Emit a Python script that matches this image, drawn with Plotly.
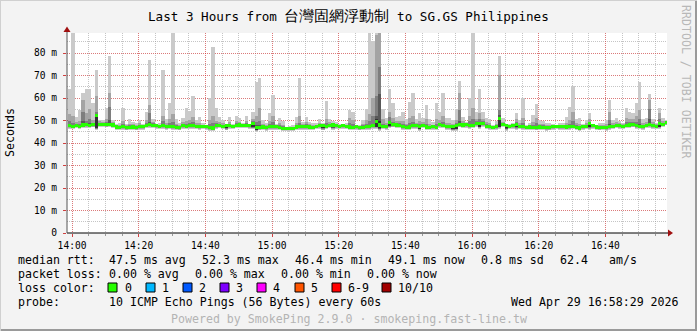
import plotly.graph_objects as go

# ---------------- data (ms), one value per minute, 180 minutes ----------------
median = [47.6,47.4,47.8,47.5,48.0,48.1,47.9,48.2,52.3,48.4,
 48.3,48.2,48.4,48.0,47.1,47.0,47.2,46.9,47.0,47.1,
 46.9,47.3,47.2,47.9,48.1,47.8,47.6,47.4,47.6,47.3,
 47.5,47.2,47.0,46.9,47.6,47.5,47.7,47.6,47.4,47.2,
 47.4,47.3,46.8,46.7,47.6,47.8,47.5,47.6,47.7,47.5,
 47.9,48.0,47.8,47.9,47.6,48.5,47.0,46.9,47.1,46.8,
 47.3,47.2,47.3,47.0,46.6,46.4,46.6,46.5,47.1,47.3,
 47.2,47.3,47.1,47.0,47.4,47.6,47.7,47.5,47.8,48.0,
 47.6,47.5,47.6,47.4,47.1,47.0,47.2,46.9,47.0,47.2,
 47.3,47.6,49.5,48.0,47.4,47.3,49.2,48.2,48.0,47.9,
 47.2,47.0,47.1,47.6,47.7,47.5,47.8,47.1,47.0,47.2,
 47.0,48.1,47.8,47.3,47.2,47.4,47.6,48.2,48.0,48.1,
 47.6,47.9,48.6,48.7,48.5,47.4,47.2,47.0,47.3,50.8,
 48.3,47.7,47.5,47.6,48.3,47.5,47.2,47.0,47.1,47.0,
 46.9,47.1,47.0,46.8,46.9,47.2,47.4,47.2,47.3,47.1,
 47.3,47.4,47.0,46.7,47.2,47.5,48.6,47.6,47.1,46.9,
 47.0,46.8,47.3,47.5,47.8,47.6,47.4,47.9,48.0,48.2,
 47.6,47.5,47.3,47.8,48.1,47.7,47.4,48.8,48.3,49.1]

ping10 = [64.0,91.0,51.5,54.7,62.4,63.9,63.9,57.9,72.4,50.2,
 50.2,55.4,78.7,50.2,48.6,49.0,55.4,48.5,50.6,49.5,
 48.7,50.2,48.6,53.9,76.9,50.6,48.3,48.7,72.4,50.6,
 57.9,91.0,50.6,48.7,51.0,55.7,54.4,60.9,50.2,51.4,
 48.7,48.0,59.9,82.8,55.4,51.4,50.2,48.3,51.4,48.3,
 52.0,51.0,48.7,52.0,48.3,53.9,67.3,68.7,50.2,48.7,
 53.5,61.3,48.3,51.3,49.9,47.3,47.6,48.0,51.4,69.0,
 49.5,51.4,49.5,48.7,48.7,50.6,49.0,58.8,50.6,49.9,
 49.5,48.3,48.3,48.7,54.7,53.9,48.0,48.0,50.2,55.0,
 91.0,85.5,91.0,91.0,55.0,51.0,63.9,57.9,51.4,52.0,
 53.9,50.6,58.3,62.1,50.6,53.5,51.0,56.9,50.6,49.5,
 57.9,53.9,62.1,51.0,51.0,50.2,55.0,67.6,51.7,49.5,
 59.9,91.0,53.9,63.9,53.9,51.0,50.6,48.0,49.9,78.7,
 51.0,48.0,48.3,48.7,53.5,50.2,59.9,48.0,49.0,52.4,
 57.3,50.2,49.9,48.7,49.0,48.3,48.0,48.7,49.0,51.4,
 55.8,65.3,50.6,51.0,48.3,50.2,53.2,48.3,48.0,48.7,
 48.7,50.2,59.1,50.2,51.0,49.9,49.0,55.4,53.9,53.2,
 57.6,67.3,50.6,51.0,61.8,50.6,49.0,55.4,51.0,50.2]

ping9 = [53.0,52.0,49.3,49.8,59.1,53.2,55.0,50.4,60.9,49.6,
 49.5,50.5,62.4,49.2,48.1,48.2,49.6,47.9,48.6,48.4,
 48.0,48.9,48.1,50.2,56.9,49.4,48.1,48.2,52.0,48.7,
 50.8,53.0,48.6,47.9,49.2,50.0,50.3,51.5,48.7,49.0,
 48.1,47.8,50.3,52.0,49.9,49.3,48.8,48.0,49.2,48.0,
 49.8,49.5,48.3,49.6,48.0,50.6,52.0,55.5,48.6,47.8,
 50.0,52.0,47.9,48.9,48.0,47.0,47.2,47.3,49.0,52.0,
 48.3,49.2,48.4,47.9,48.1,49.0,48.4,50.5,49.3,49.0,
 48.6,48.0,48.0,48.2,51.0,50.2,47.7,47.6,48.6,50.3,
 53.0,60.0,88.0,91.0,50.5,49.0,54.0,51.0,49.6,50.0,
 50.0,48.6,50.9,52.0,49.0,50.0,49.2,50.8,48.4,48.2,
 50.5,50.2,52.0,49.0,48.9,48.6,50.4,62.1,49.8,49.0,
 52.0,55.4,50.8,53.5,50.6,49.2,48.8,47.7,48.6,70.2,
 49.4,47.9,48.0,48.2,50.5,48.8,51.0,47.6,48.0,49.4,
 51.0,48.6,48.4,47.8,47.9,47.9,47.9,48.0,48.2,49.0,
 50.2,54.0,48.7,48.6,47.9,48.8,50.6,48.0,47.7,47.8,
 47.9,48.5,53.9,48.8,49.4,48.8,48.3,51.0,50.5,50.6,
 52.0,54.7,48.9,49.4,59.1,49.2,48.3,53.2,49.7,50.0]

ping8 = [50.0,49.0,48.6,48.4,53.9,50.0,50.5,49.0,53.9,49.1,
 49.0,49.2,56.1,48.7,47.7,47.7,48.3,47.5,47.9,47.8,
 47.5,48.2,47.8,48.9,53.2,48.7,47.9,47.9,49.8,48.0,
 48.9,49.5,47.9,47.5,48.4,48.6,48.8,49.2,48.1,48.0,
 47.8,47.6,48.6,49.0,48.7,48.6,48.2,47.9,48.5,47.9,
 48.9,48.8,48.1,48.8,47.9,49.6,49.5,50.0,47.9,47.4,
 48.6,49.5,47.6,48.0,47.4,46.8,47.0,46.9,48.0,49.0,
 47.8,48.3,47.8,47.5,47.8,48.4,48.1,49.0,48.6,48.6,
 48.2,47.8,47.9,47.9,49.0,48.5,47.5,47.3,47.9,48.6,
 50.0,52.0,61.0,73.8,48.6,48.0,51.5,49.5,48.8,48.9,
 48.5,47.8,48.8,49.2,48.4,48.6,48.5,48.5,47.7,47.8,
 48.5,49.0,49.5,48.2,48.0,48.0,48.8,54.7,48.9,48.6,
 49.6,50.5,49.7,50.5,49.6,48.3,48.0,47.4,48.0,54.7,
 48.9,47.8,47.8,48.0,49.2,48.1,48.9,47.3,47.6,48.2,
 48.8,47.9,47.8,47.3,47.4,47.6,47.7,47.6,47.8,48.2,
 48.6,49.8,47.9,47.7,47.6,48.1,49.5,47.9,47.4,47.4,
 47.5,47.6,50.4,48.2,48.6,48.2,47.9,49.3,49.4,49.4,
 49.5,50.8,48.1,48.6,55.0,48.5,47.9,50.5,49.0,49.6]

ping7 = [48.3,48.0,48.2,48.0,50.0,48.8,48.7,48.6,52.8,48.8,
 48.7,48.7,50.3,48.3,47.4,47.3,47.7,47.2,47.4,47.4,
 47.2,47.7,47.5,48.4,49.5,48.2,47.8,47.7,48.4,47.6,
 48.1,48.0,47.4,47.2,48.0,48.0,48.2,48.3,47.7,47.5,
 47.6,47.5,47.5,47.7,48.1,48.2,47.8,47.8,48.0,47.7,
 48.3,48.4,47.9,48.3,47.8,49.0,48.0,48.0,47.4,47.1,
 47.9,48.0,47.5,47.4,47.0,46.6,46.8,46.7,47.5,48.0,
 47.5,47.7,47.4,47.2,47.6,48.0,47.9,48.0,48.2,48.3,
 47.9,47.7,47.8,47.7,47.8,47.6,47.4,47.1,47.4,47.8,
 48.0,48.5,52.0,62.0,47.9,47.6,50.0,48.7,48.4,48.3,
 47.7,47.3,47.6,48.2,48.0,47.9,48.1,47.6,47.3,47.5,
 47.6,48.5,48.4,47.7,47.6,47.7,48.0,50.0,48.4,48.4,
 48.3,48.6,49.1,49.3,49.0,47.8,47.6,47.2,47.6,52.4,
 48.6,47.9,47.7,47.8,48.7,47.8,47.7,47.2,47.3,47.5,
 47.6,47.4,47.3,47.0,47.1,47.4,47.6,47.4,47.5,47.6,
 47.8,48.2,47.4,47.1,47.4,47.8,49.0,47.8,47.3,47.1,
 47.2,47.1,48.4,47.8,48.1,47.9,47.6,48.4,48.5,48.7,
 48.2,48.6,47.6,48.1,50.5,48.0,47.6,49.4,48.6,49.4]

ping6 = [47.8,47.6,48.0,47.7,48.3,48.4,48.2,48.4,52.6,48.6,
 48.5,48.4,48.7,48.2,47.3,47.2,47.4,47.1,47.2,47.3,
 47.1,47.5,47.4,48.1,48.5,48.0,47.7,47.6,47.9,47.5,
 47.8,47.5,47.2,47.1,47.8,47.7,47.9,47.9,47.6,47.4,
 47.5,47.4,47.1,47.1,47.8,48.0,47.7,47.7,47.9,47.6,
 48.1,48.2,47.9,48.1,47.7,48.8,47.7,47.3,47.3,47.0,
 47.5,47.4,47.4,47.2,46.8,46.5,46.7,46.6,47.3,47.6,
 47.4,47.5,47.3,47.1,47.5,47.8,47.8,47.7,48.0,48.5,
 47.8,47.6,47.7,47.6,47.4,47.3,47.3,47.0,47.2,47.5,
 47.6,48.0,50.5,49.8,47.6,47.5,49.5,48.4,48.2,48.1,
 47.4,47.1,47.3,47.9,47.9,47.7,47.9,47.3,47.1,47.3,
 47.2,48.3,48.0,47.5,47.4,47.6,47.8,48.8,48.2,48.3,
 47.9,48.2,48.8,49.0,48.7,47.6,47.4,47.1,47.4,51.6,
 48.5,47.8,47.6,47.7,48.5,47.6,47.4,47.1,47.2,47.2,
 47.2,47.2,47.1,46.9,47.0,47.3,47.5,47.3,47.4,47.3,
 47.5,47.6,47.2,46.9,47.3,47.6,48.8,47.7,47.2,47.0,
 47.1,46.9,47.7,47.6,47.9,47.7,47.5,48.1,48.2,48.4,
 47.8,48.0,47.4,47.9,48.4,47.8,47.5,49.1,48.5,49.3]

ping5 = [47.4,47.2,47.6,47.3,47.8,47.9,47.7,48.0,46.8,48.2,
 48.1,48.0,48.2,47.8,46.9,46.8,47.0,46.7,46.8,46.9,
 46.7,47.1,47.0,47.7,47.9,47.6,47.4,47.2,47.4,47.1,
 47.3,47.0,46.8,46.7,47.4,47.3,47.5,47.4,47.2,47.0,
 47.2,47.1,46.6,46.5,47.4,47.6,47.3,46.6,47.5,47.3,
 47.7,47.8,47.6,47.7,47.4,47.2,46.0,46.7,46.9,46.6,
 47.1,47.0,47.1,46.8,46.4,46.3,46.4,46.3,46.9,47.1,
 47.0,47.1,46.9,46.8,47.2,47.4,46.6,47.3,47.6,46.9,
 47.4,47.3,47.4,47.2,46.9,46.8,47.0,46.7,46.8,47.0,
 47.1,47.3,47.3,46.5,47.2,47.1,47.6,48.0,47.8,47.7,
 47.0,46.8,46.9,47.4,47.5,46.4,47.6,46.9,46.8,47.0,
 46.8,47.9,47.6,47.1,47.0,46.3,46.4,48.0,47.8,47.9,
 47.4,47.7,48.4,47.3,48.3,47.2,47.0,46.8,47.1,47.2,
 48.1,46.5,47.3,47.4,47.0,47.3,47.0,46.8,46.9,46.8,
 46.7,46.9,46.8,46.6,46.7,47.0,47.2,47.0,47.1,46.9,
 47.1,47.2,46.8,46.5,47.0,47.3,47.0,47.4,46.9,46.7,
 46.8,46.6,47.1,47.3,47.6,47.4,47.2,47.7,47.8,48.0,
 47.4,47.3,47.1,47.6,47.8,47.5,47.2,47.2,48.1,48.9]

ping4 = [47.2,47.0,47.4,47.1,47.6,47.7,47.5,47.8,46.6,48.0,
 47.9,47.8,48.0,47.6,46.7,46.6,46.8,46.5,46.6,46.7,
 46.5,46.9,46.8,47.5,47.7,47.4,47.2,47.0,47.2,46.9,
 47.1,46.8,46.6,46.5,47.2,47.1,47.3,47.2,47.0,46.8,
 47.0,46.9,46.4,46.3,47.2,47.4,47.1,46.5,47.3,47.1,
 47.5,47.6,47.4,47.5,47.2,47.0,45.9,46.5,46.7,46.4,
 46.9,46.8,46.9,46.6,46.2,46.1,46.2,46.1,46.7,46.9,
 46.8,46.9,46.7,46.6,47.0,47.2,46.5,47.1,47.4,46.8,
 47.2,47.1,47.2,47.0,46.7,46.6,46.8,46.5,46.6,46.8,
 46.9,47.1,47.1,46.4,47.0,46.9,47.4,47.8,47.6,47.5,
 46.8,46.6,46.7,47.2,47.3,46.3,47.4,46.7,46.6,46.8,
 46.6,47.7,47.4,46.9,46.8,46.2,46.3,47.8,47.6,47.7,
 47.2,47.5,48.2,47.2,48.1,47.0,46.8,46.6,46.9,47.1,
 47.9,46.4,47.1,47.2,46.9,47.1,46.8,46.6,46.7,46.6,
 46.5,46.7,46.6,46.4,46.5,46.8,47.0,46.8,46.9,46.7,
 46.9,47.0,46.6,46.3,46.8,47.1,46.9,47.2,46.7,46.5,
 46.6,46.4,46.9,47.1,47.4,47.2,47.0,47.5,47.6,47.8,
 47.2,47.1,46.9,47.4,47.6,47.3,47.0,47.1,47.9,48.7]

ping3 = [47.0,46.8,47.2,46.9,47.4,47.5,47.3,47.6,46.4,47.8,
 47.7,47.6,47.8,47.4,46.5,46.4,46.6,46.3,46.4,46.5,
 46.3,46.7,46.6,47.3,47.5,47.2,47.0,46.8,47.0,46.7,
 46.9,46.6,46.4,46.3,47.0,46.9,47.1,47.0,46.8,46.6,
 46.8,46.7,46.2,46.1,47.0,47.2,46.9,46.3,47.1,46.9,
 47.3,47.4,47.2,47.3,47.0,46.8,45.8,46.3,46.5,46.2,
 46.7,46.6,46.7,46.4,46.0,45.9,46.0,45.9,46.5,46.7,
 46.6,46.7,46.5,46.4,46.8,47.0,46.3,46.9,47.2,46.6,
 47.0,46.9,47.0,46.8,46.5,46.4,46.6,46.3,46.4,46.6,
 46.7,46.9,46.9,46.2,46.8,46.7,47.2,47.6,47.4,47.3,
 46.6,46.4,46.5,47.0,47.1,46.1,47.2,46.5,46.4,46.6,
 46.4,47.5,47.2,46.7,46.6,46.0,46.1,47.6,47.4,47.5,
 47.0,47.3,48.0,47.0,47.9,46.8,46.6,46.4,46.7,46.9,
 47.7,46.2,46.9,47.0,46.7,46.9,46.6,46.4,46.5,46.4,
 46.3,46.5,46.4,46.2,46.3,46.6,46.8,46.6,46.7,46.5,
 46.7,46.8,46.4,46.1,46.6,46.9,46.7,47.0,46.5,46.3,
 46.4,46.2,46.7,46.9,47.2,47.0,46.8,47.3,47.4,47.6,
 47.0,46.9,46.7,47.2,47.4,47.1,46.8,46.9,47.7,48.5]

ping2 = [46.6,46.5,46.9,46.6,47.1,47.2,47.0,47.3,46.1,47.5,
 47.4,47.3,47.5,47.1,46.2,46.1,46.3,46.0,46.1,46.2,
 46.0,46.4,46.3,47.0,47.2,46.9,46.7,46.5,46.7,46.4,
 46.6,46.3,46.1,46.0,46.7,46.6,46.8,46.7,46.5,46.3,
 46.5,46.4,45.9,45.8,46.7,46.9,46.6,46.0,46.8,46.6,
 47.0,47.1,46.9,47.0,46.7,46.5,45.5,46.0,46.2,45.9,
 46.4,46.3,46.4,46.1,45.7,45.6,45.7,45.6,46.2,46.4,
 46.3,46.4,46.2,46.1,46.5,46.7,46.0,46.6,46.9,46.3,
 46.7,46.6,46.7,46.5,46.2,46.1,46.3,46.0,46.1,46.3,
 46.4,46.6,46.6,45.9,46.5,46.4,46.9,47.3,47.1,47.0,
 46.3,46.1,46.2,46.7,46.8,45.8,46.9,46.2,46.1,46.3,
 46.1,47.2,46.9,46.4,46.3,45.7,45.8,47.3,47.1,47.2,
 46.7,47.0,47.7,46.7,47.6,46.5,46.3,46.1,46.4,46.6,
 47.4,45.9,46.6,46.7,46.4,46.6,46.3,46.1,46.2,46.1,
 46.0,46.2,46.1,45.9,46.0,46.3,46.5,46.3,46.4,46.2,
 46.4,46.5,46.1,45.8,46.3,46.6,46.4,46.7,46.2,46.0,
 46.1,45.9,46.4,46.6,46.9,46.7,46.5,47.0,47.1,47.3,
 46.7,46.6,46.4,46.9,47.1,46.8,46.5,46.6,47.4,48.2]

ping1 = [46.2,46.1,46.5,46.2,46.7,46.8,46.6,46.9,45.7,47.1,
 47.0,46.9,47.1,46.7,45.8,45.7,45.9,45.6,45.7,45.8,
 45.6,46.0,45.9,46.6,46.8,46.5,46.3,46.1,46.3,46.0,
 46.2,45.9,45.7,45.6,46.3,46.2,46.4,46.3,46.1,45.9,
 46.1,46.0,45.5,45.4,46.3,46.5,46.2,45.6,46.4,46.2,
 46.6,46.7,46.5,46.6,46.3,46.1,45.1,45.6,45.8,45.5,
 46.0,45.9,46.0,45.7,45.3,45.2,45.3,45.2,45.8,46.0,
 45.9,46.0,45.8,45.7,46.1,46.3,45.6,46.2,46.5,45.9,
 46.3,46.2,46.3,46.1,45.8,45.7,45.9,45.6,45.7,45.9,
 46.0,46.2,46.2,45.5,46.1,46.0,46.5,46.9,46.7,46.6,
 45.9,45.7,45.8,46.3,46.4,45.4,46.5,45.8,45.7,45.9,
 45.7,46.8,46.5,46.0,45.9,45.3,45.4,46.9,46.7,46.8,
 46.3,46.6,47.3,46.3,47.2,46.1,45.9,45.7,46.0,46.2,
 47.0,45.5,46.2,46.3,46.0,46.2,45.9,45.7,45.8,45.7,
 45.6,45.8,45.7,45.5,45.6,45.9,46.1,45.9,46.0,45.8,
 46.0,46.1,45.7,45.4,45.9,46.2,46.0,46.3,45.8,45.6,
 45.7,45.5,46.0,46.2,46.5,46.3,46.1,46.6,46.7,46.9,
 46.3,46.2,46.0,46.5,46.7,46.4,46.1,46.2,47.0,47.8]

x_tick_labels = ["14:00", "14:20", "14:40", "15:00", "15:20", "15:40", "16:00", "16:20", "16:40"]
y_tick_values = [0, 10, 20, 30, 40, 50, 60, 70, 80]
y_tick_labels = ["0", "10 m", "20 m", "30 m", "40 m", "50 m", "60 m", "70 m", "80 m"]

loss_labels = ["0", "1", "2", "3", "4", "5", "6-9", "10/10"]
loss_colors = ["#26ff00", "#00b8ff", "#0059ff", "#7e00ff", "#ff00ff", "#ff5500", "#ff0000", "#a10000"]

title_ascii_a = "Last 3 Hours from "
title_cjk = "台灣固網浮動制"
title_ascii_b = " to SG.GS Philippines"

stats_line1 = [("median rtt:", 16), ("47.5 ms avg", 107), ("52.3 ms max", 200), ("46.4 ms min", 293),
               ("49.1 ms now", 386), ("0.8 ms sd", 479), ("62.4", 558), ("am/s", 607)]
stats_line2 = [("packet loss:", 16), ("0.00 % avg", 107), ("0.00 % max", 193), ("0.00 % min", 279),
               ("0.00 % now", 365)]
probe_line = [("probe:", 16), ("10 ICMP Echo Pings (56 Bytes) every 60s", 107)]
stamp = "Wed Apr 29 16:58:29 2026"
footer = "Powered by SmokePing 2.9.0 · smokeping.fast-line.tw"

# ---------------- geometry ----------------
W, H = 697, 331
PL, PR, PT, PB = 67, 667, 33, 233          # plot area in pixels
X_START, X_END = -1.517, 178.483            # minutes relative to 14:00
BIN_SHIFT = -0.717                          # centre of minute bin relative to index
Y_MAX = 88.9
MONO = "DejaVu Sans Mono"


def px(x):
    return (x - PL) / (PR - PL)


def py(y):
    return (PB - y) / (PB - PT)


def nb(s):
    return s.replace(" ", "\u00a0")


n = len(median)
xc = [k + BIN_SHIFT for k in range(n)]
lows = [ping1, ping2, ping3, ping4, ping5]
highs = [ping10, ping9, ping8, ping7, ping6]
smoke_colors = ["#cacaca", "#a4a4a4", "#7e7e7e", "#585858", "#323232"]

fig = go.Figure()
for lo, hi, col in zip(lows, highs, smoke_colors):
    fig.add_trace(go.Bar(x=xc, y=[h - l for h, l in zip(hi, lo)], base=lo, width=1.0,
                         marker=dict(color=col, line=dict(width=0)), hoverinfo="skip",
                         showlegend=False))

MED_H = 1.4
fig.add_trace(go.Bar(x=xc, y=[MED_H] * n, base=[m - MED_H / 2 for m in median], width=1.0,
                     marker=dict(color=loss_colors[0], line=dict(width=0)), hoverinfo="skip",
                     showlegend=False))

tick_pos = [int(t[:2]) * 60 + int(t[3:]) - 14 * 60 for t in x_tick_labels]

fig.update_layout(
    width=W, height=H,
    margin=dict(l=PL, r=W - PR, t=PT, b=H - PB, pad=0),
    paper_bgcolor="#f3f3f3", plot_bgcolor="#ffffff",
    barmode="overlay", bargap=0,
    showlegend=False,
    font=dict(family=MONO, size=10, color="#000000"),
)
fig.update_xaxes(
    range=[X_START, X_END], tickvals=tick_pos, ticktext=x_tick_labels,
    showgrid=True, gridcolor="rgba(255,0,0,0.38)", griddash="1px,1px", gridwidth=1,
    minor=dict(dtick=5, tick0=0, showgrid=True, gridcolor="rgba(150,150,150,0.55)",
               griddash="1px,1px", gridwidth=1, ticks="outside", ticklen=2, tickcolor="#999999"),
    ticks="outside", ticklen=3, tickcolor="#d04040", tickwidth=1,
    tickfont=dict(family=MONO, size=9.6, color="#000000"),
    showline=False, zeroline=False, fixedrange=True,
)
fig.update_yaxes(
    range=[0, Y_MAX], tickvals=y_tick_values, ticktext=y_tick_labels,
    showgrid=True, gridcolor="rgba(255,0,0,0.38)", griddash="1px,1px", gridwidth=1,
    minor=dict(dtick=5, tick0=0, showgrid=True, gridcolor="rgba(150,150,150,0.55)",
               griddash="1px,1px", gridwidth=1),
    ticks="outside", ticklen=3, tickcolor="#d04040", tickwidth=1,
    ticklabelstandoff=4,
    tickfont=dict(family=MONO, size=9.6, color="#000000"),
    showline=False, zeroline=False, fixedrange=True,
)

shapes = []
# axes lines
shapes.append(dict(type="line", xref="paper", yref="paper", x0=px(PL), x1=px(671), y0=0, y1=0,
                   line=dict(color="#000000", width=1)))
shapes.append(dict(type="line", xref="paper", yref="paper", x0=0, x1=0, y0=0, y1=py(29),
                   line=dict(color="#555555", width=1)))
# arrow heads
shapes.append(dict(type="path", xref="paper", yref="paper",
                   path=f"M {px(668)} {py(229.5)} L {px(673)} {py(233)} L {px(668)} {py(236.5)} Z",
                   fillcolor="#a01010", line=dict(width=0)))
shapes.append(dict(type="path", xref="paper", yref="paper",
                   path=f"M {px(63.5)} {py(32)} L {px(67)} {py(26.5)} L {px(70.5)} {py(32)} Z",
                   fillcolor="#a01010", line=dict(width=0)))
# frame
shapes.append(dict(type="line", xref="paper", yref="paper", x0=px(0), x1=px(W), y0=py(H - 1), y1=py(H - 1),
                   line=dict(color="#9a9a9a", width=2)))
shapes.append(dict(type="line", xref="paper", yref="paper", x0=px(W - 1), x1=px(W - 1), y0=py(0), y1=py(H),
                   line=dict(color="#9a9a9a", width=2)))
shapes.append(dict(type="line", xref="paper", yref="paper", x0=px(0), x1=px(W), y0=py(0.5), y1=py(0.5),
                   line=dict(color="#d0d0d0", width=1)))
shapes.append(dict(type="line", xref="paper", yref="paper", x0=px(0.5), x1=px(0.5), y0=py(0), y1=py(H),
                   line=dict(color="#d0d0d0", width=1)))

# loss colour boxes
box_x = [108, 146, 183, 220, 257, 295, 332, 382]
label_x = [123, 160, 197, 234, 271, 309, 346, 396]
annotations = []
for bx, lx, lab, col in zip(box_x, label_x, loss_labels, loss_colors):
    shapes.append(dict(type="rect", xref="paper", yref="paper", x0=px(bx), x1=px(bx + 9),
                       y0=py(292), y1=py(283), fillcolor=col, line=dict(color="#000000", width=1)))
    annotations.append(dict(text=nb(lab), x=px(lx), y=py(287.5)))

for txt, x in stats_line1:
    annotations.append(dict(text=nb(txt), x=px(x), y=py(259.5)))
for txt, x in stats_line2:
    annotations.append(dict(text=nb(txt), x=px(x), y=py(273.5)))
annotations.append(dict(text=nb("loss color:"), x=px(16), y=py(287.5)))
for txt, x in probe_line:
    annotations.append(dict(text=nb(txt), x=px(x), y=py(301.5)))
annotations.append(dict(text=nb(stamp), x=px(681), y=py(301.5), xanchor="right"))

for a in annotations:
    a.setdefault("xanchor", "left")
    a.update(xref="paper", yref="paper", yanchor="middle", showarrow=False,
             font=dict(family=MONO, size=11.6, color="#000000"))

annotations.append(dict(text=nb(footer), x=px(348.5), y=py(318.5), xref="paper", yref="paper",
                        xanchor="center", yanchor="middle", showarrow=False,
                        font=dict(family=MONO, size=11.6, color="#b4b4b4")))
annotations.append(dict(text=nb(title_ascii_a) + f'<span style="font-size:14.8px">{title_cjk}</span>' + nb(title_ascii_b),
                        x=px(348), y=py(15.5), xref="paper", yref="paper",
                        xanchor="center", yanchor="middle", showarrow=False,
                        font=dict(family=MONO, size=12.6, color="#000000")))
annotations.append(dict(text="Seconds", x=px(10), y=py(133), xref="paper", yref="paper",
                        xanchor="center", yanchor="middle", showarrow=False, textangle=-90,
                        font=dict(family=MONO, size=11.6, color="#000000")))
annotations.append(dict(text=nb("RRDTOOL / TOBI OETIKER"), x=px(686), y=py(82), xref="paper", yref="paper",
                        xanchor="center", yanchor="middle", showarrow=False, textangle=90,
                        font=dict(family=MONO, size=11.6, color="#b8b8b8")))

fig.update_layout(shapes=shapes, annotations=annotations)
fig.write_html("out.html")
